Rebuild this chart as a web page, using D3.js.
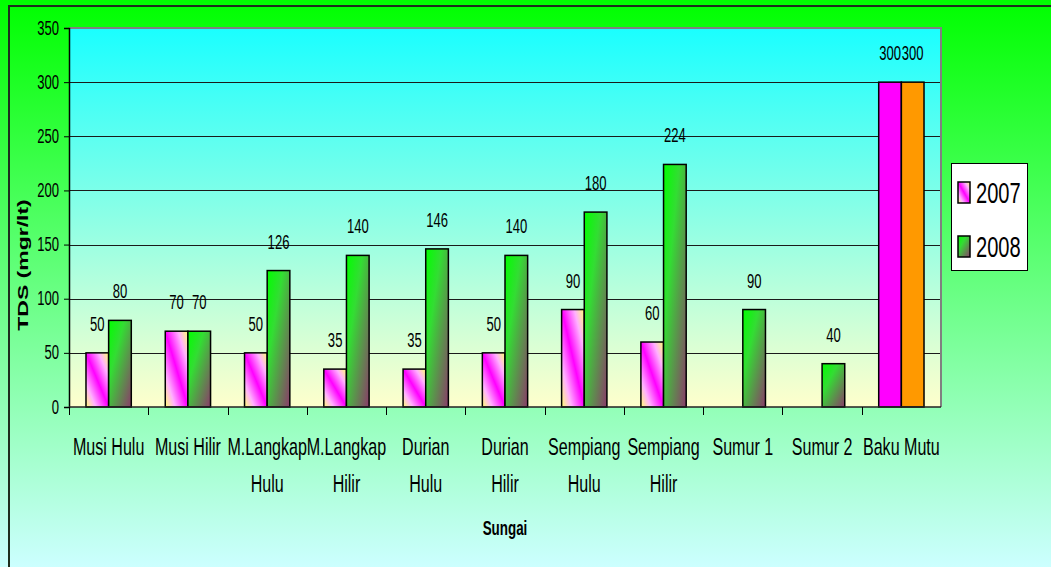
<!DOCTYPE html>
<html>
<head>
<meta charset="utf-8">
<script src="https://cdn.jsdelivr.net/npm/d3@7"></script>
<style>
  html, body { margin: 0; padding: 0; background: #ffffff; }
  svg { display: block; }
  text { font-family: "Liberation Sans", Arial, sans-serif; fill: #000; }
</style>
</head>
<body>
<svg id="chart" width="1051" height="567"></svg>
<script>
// River sampling sites and total dissolved solids (mg/l) per year
const categories = ["Musi Hulu", "Musi Hilir", "M.Langkap Hulu", "M.Langkap Hilir",
  "Durian Hulu", "Durian Hilir", "Sempiang Hulu", "Sempiang Hilir",
  "Sumur 1", "Sumur 2", "Baku Mutu"];
const tds2007 = [50, 70, 50, 35, 35, 50, 90, 60, null, null, 300];
const tds2008 = [80, 70, 126, 140, 146, 140, 180, 224, 90, 40, 300];
const seriesNames = ["2007", "2008"];
const yTicks = [0, 50, 100, 150, 200, 250, 300, 350];
const standardCategory = "Baku Mutu";

const W = 1051, H = 567;
const plot = { left: 69, right: 941, top: 28, bottom: 407 };
const SX = 0.67; // horizontal squeeze applied to all lettering

const svg = d3.select("#chart");
const defs = svg.append("defs");

function linGrad(id, x1, y1, x2, y2, stops) {
  const g = defs.append("linearGradient").attr("id", id)
    .attr("x1", x1).attr("y1", y1).attr("x2", x2).attr("y2", y2);
  stops.forEach(([o, c]) => g.append("stop").attr("offset", o).attr("stop-color", c));
}

// page and plot backgrounds
linGrad("bgOuter", 0, 0, 0, 1, [[0, "#00ff00"], [1, "#ccffff"]]);
linGrad("bgPlot", 0, 0, 0, 1, [[0, "#1affff"], [1, "#ffffcc"]]);
// bar fills
linGrad("fill2007", 1, 0, 0, 1, [[0, "#ffff70"], [0.22, "#ffb0ff"], [0.5, "#ff00ff"], [0.78, "#ffb0ff"], [1, "#ffff70"]]);
linGrad("fill2008", 0, 0, 1, 1, [[0, "#00ff00"], [0.35, "#33dd33"], [1, "#8b3a6a"]]);

svg.append("rect").attr("x", 0).attr("y", 0).attr("width", W).attr("height", H)
  .attr("fill", "url(#bgOuter)");
svg.append("rect").attr("x", 9).attr("y", 6).attr("width", W + 40).attr("height", H + 40)
  .attr("fill", "none").attr("stroke", "#1e2e1e").attr("stroke-width", 2);

const x0 = d3.scaleBand().domain(categories).range([plot.left, plot.right]).padding(0);
const x1 = d3.scaleBand().domain(seriesNames).range([0, x0.bandwidth()])
  .paddingInner(0).paddingOuter(0.75);
const y = d3.scaleLinear().domain([0, 350]).range([plot.bottom, plot.top]);

svg.append("rect").attr("x", plot.left).attr("y", plot.top)
  .attr("width", plot.right - plot.left).attr("height", plot.bottom - plot.top)
  .attr("fill", "url(#bgPlot)");

// horizontal gridlines
svg.append("g").selectAll("line").data(yTicks.filter(t => t > 0 && t < 350)).join("line")
  .attr("x1", plot.left).attr("x2", plot.right)
  .attr("y1", d => Math.round(y(d)) + 0.5).attr("y2", d => Math.round(y(d)) + 0.5)
  .attr("stroke", "#1a1a1a").attr("stroke-width", 1);

// plot frame: grey top and right edges
svg.append("path")
  .attr("d", `M${plot.left},${plot.top} H${plot.right} V${plot.bottom}`)
  .attr("fill", "none").attr("stroke", "#808080").attr("stroke-width", 2);

// bars
const rows = categories.map((c, i) => ({ cat: c, vals: [tds2007[i], tds2008[i]] }));
const solid = { "2007": "#ff00ff", "2008": "#ff9900" };
const groups = svg.append("g").selectAll("g").data(rows).join("g")
  .attr("transform", d => `translate(${x0(d.cat)},0)`);

groups.selectAll("rect")
  .data(d => d.vals.map((v, k) => ({ cat: d.cat, s: seriesNames[k], v })).filter(e => e.v != null))
  .join("rect")
  .attr("x", e => x1(e.s))
  .attr("y", e => y(e.v))
  .attr("width", x1.bandwidth())
  .attr("height", e => y(0) - y(e.v))
  .attr("fill", e => e.cat === standardCategory ? solid[e.s] : `url(#fill${e.s})`)
  .attr("stroke", "#000").attr("stroke-width", 1.5);

// value labels
groups.selectAll("text.val")
  .data(d => d.vals.map((v, k) => ({ s: seriesNames[k], v })).filter(e => e.v != null))
  .join("text").attr("class", "val")
  .attr("transform", e => `translate(${x1(e.s) + x1.bandwidth() / 2},${y(e.v) - 22}) scale(${SX},1)`)
  .attr("text-anchor", "middle")
  .style("font-size", "19.5px")
  .text(e => e.v);

// y axis
const yAxis = svg.append("g").attr("transform", `translate(${plot.left},0)`)
  .call(d3.axisLeft(y).tickValues(yTicks).tickSize(5).tickFormat(d3.format("d")));
yAxis.select(".domain").attr("stroke", "#000").attr("stroke-width", 1.5);
yAxis.selectAll(".tick line").attr("stroke", "#000");
yAxis.selectAll(".tick text")
  .attr("x", null).attr("dy", null)
  .attr("transform", `translate(-10,6) scale(${SX},1)`)
  .attr("text-anchor", "end")
  .style("font-size", "19.5px").style("font-family", null);

// x axis: ticks on category boundaries
const xAxisG = svg.append("g");
xAxisG.append("line").attr("x1", plot.left).attr("x2", plot.right)
  .attr("y1", plot.bottom).attr("y2", plot.bottom)
  .attr("stroke", "#222").attr("stroke-width", 1.5);
const bounds = categories.map(c => x0(c));
xAxisG.selectAll("line.tk").data(bounds).join("line").attr("class", "tk")
  .attr("x1", d => Math.round(d) + 0.5).attr("x2", d => Math.round(d) + 0.5)
  .attr("y1", plot.bottom).attr("y2", plot.bottom + 8)
  .attr("stroke", "#000").attr("stroke-width", 1);

// category labels, wrapped onto two lines when wider than the band
const catLabel = xAxisG.selectAll("g.cat").data(categories).join("g").attr("class", "cat")
  .attr("transform", c => `translate(${x0(c) + x0.bandwidth() / 2},0)`);
catLabel.each(function (c) {
  const g = d3.select(this);
  const probe = g.append("text").style("font-size", "24px").text(c);
  const wide = probe.node().getComputedTextLength() * SX > x0.bandwidth();
  probe.remove();
  const lines = wide ? [c.slice(0, c.lastIndexOf(" ")), c.slice(c.lastIndexOf(" ") + 1)] : [c];
  lines.forEach((ln, i) => {
    g.append("text")
      .attr("transform", `translate(0,${455 + i * 37}) scale(${SX},1)`)
      .attr("text-anchor", "middle")
      .style("font-size", "24px")
      .text(ln);
  });
});

// axis titles
svg.append("text")
  .attr("transform", `translate(505,535) scale(${SX},1)`)
  .attr("text-anchor", "middle")
  .style("font-size", "20px").style("font-weight", "bold")
  .text("Sungai");
svg.append("text")
  .attr("transform", `translate(28,265) rotate(-90) scale(1,${SX})`)
  .attr("text-anchor", "middle")
  .style("font-size", "23px").style("font-weight", "bold")
  .text("TDS (mgr/lt)");

// legend
const lg = svg.append("g").attr("transform", "translate(951,163)");
lg.append("rect").attr("x", 0.5).attr("y", 0.5).attr("width", 76).attr("height", 107)
  .attr("fill", "#fff").attr("stroke", "#000").attr("stroke-width", 1);
seriesNames.forEach((s, i) => {
  const yy = 19 + i * 54;
  lg.append("rect").attr("x", 7).attr("y", yy).attr("width", 12).attr("height", 21)
    .attr("fill", `url(#fill${s})`).attr("stroke", "#000").attr("stroke-width", 1.5);
  lg.append("text")
    .attr("transform", `translate(25,${yy + 21}) scale(${SX},1)`)
    .style("font-size", "30px")
    .text(s);
});
</script>
</body>
</html>
